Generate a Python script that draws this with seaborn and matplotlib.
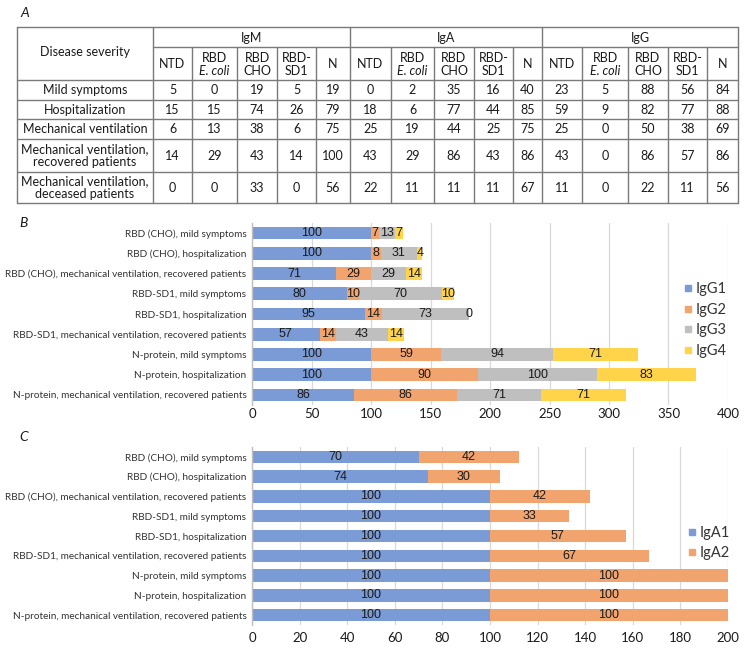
import numpy as np
import pandas as pd
import matplotlib
matplotlib.use("Agg")
import matplotlib.pyplot as plt
import seaborn as sns
from matplotlib.lines import Line2D

# ---------------- Panel A: table data ----------------
severity = ["Mild symptoms", "Hospitalization", "Mechanical ventilation",
            "Mechanical ventilation,\nrecovered patients",
            "Mechanical ventilation,\ndeceased patients"]
isotypes = ["IgM", "IgA", "IgG"]
antigen_top = ["NTD", "RBD", "RBD", "RBD-", "N"]
antigen_bottom = ["", "E. coli", "CHO", "SD1", ""]
igm = [[5, 0, 19, 5, 19], [15, 15, 74, 26, 79], [6, 13, 38, 6, 75],
       [14, 29, 43, 14, 100], [0, 0, 33, 0, 56]]
iga = [[0, 2, 35, 16, 40], [18, 6, 77, 44, 85], [25, 19, 44, 25, 75],
       [43, 29, 86, 43, 86], [22, 11, 11, 11, 67]]
igg = [[23, 5, 88, 56, 84], [59, 9, 82, 77, 88], [25, 0, 50, 38, 69],
       [43, 0, 86, 57, 86], [11, 0, 22, 11, 56]]

# ---------------- Panel B / C data ----------------
groups = ["RBD (CHO), mild symptoms",
          "RBD (CHO), hospitalization",
          "RBD (CHO), mechanical ventilation, recovered patients",
          "RBD-SD1, mild symptoms",
          "RBD-SD1, hospitalization",
          "RBD-SD1, mechanical ventilation, recovered patients",
          "N-protein, mild symptoms",
          "N-protein, hospitalization",
          "N-protein, mechanical ventilation, recovered patients"]
igg1 = [100, 100, 71, 80, 95, 57, 100, 100, 86]
igg2 = [7, 8, 29, 10, 14, 14, 59, 90, 86]
igg3 = [13, 31, 29, 70, 73, 43, 94, 100, 71]
igg4 = [7, 4, 14, 10, 0, 14, 71, 83, 71]
iga1 = [70, 74, 100, 100, 100, 100, 100, 100, 100]
iga2 = [42, 30, 42, 33, 57, 67, 100, 100, 100]
b_ticks = [0, 50, 100, 150, 200, 250, 300, 350, 400]
c_ticks = [0, 20, 40, 60, 80, 100, 120, 140, 160, 180, 200]

BLUE, ORANGE, GRAY, YELLOW = "#7b9bd6", "#f2a46f", "#bfbfbf", "#ffd44b"

sns.set_theme(style="white")
plt.rcParams["font.family"] = ["Lato", "DejaVu Sans"]

W, H = 749, 649
fig = plt.figure(figsize=(W / 100, H / 100), dpi=100)

# ---------------- Table ----------------
tax = fig.add_axes([0, 0, 1, 1])
tax.set_xlim(0, W)
tax.set_ylim(H, 0)
tax.axis("off")
tax.patch.set_alpha(0)

xs = [17, 153, 192, 237, 277, 316, 350, 391, 434, 474, 513, 542, 582, 628, 668, 707, 738]
ys = [27, 47, 80, 100, 119, 139, 172, 203]
lc = "#7a7a7a"
lw = 1.0
tax.plot([xs[0], xs[-1]], [ys[0], ys[0]], color=lc, lw=lw)
tax.plot([xs[1], xs[-1]], [ys[1], ys[1]], color=lc, lw=lw)
for y in ys[2:]:
    tax.plot([xs[0], xs[-1]], [y, y], color=lc, lw=lw)
for i, x in enumerate(xs):
    if i in (0, 1, 6, 11, 16):
        tax.plot([x, x], [ys[0], ys[-1]], color=lc, lw=lw)
    else:
        tax.plot([x, x], [ys[1], ys[-1]], color=lc, lw=lw)

tfs = 9
tc = "#1a1a1a"
tax.text((xs[0] + xs[1]) / 2, 52, "Disease severity", ha="center", va="center", fontsize=tfs, color=tc)
for g, iso in enumerate(isotypes):
    x0, x1 = xs[1 + 5 * g], xs[6 + 5 * g]
    tax.text((x0 + x1) / 2, 37.5, iso, ha="center", va="center", fontsize=tfs, color=tc)
    for k in range(5):
        cx = (xs[1 + 5 * g + k] + xs[2 + 5 * g + k]) / 2
        if antigen_bottom[k]:
            tax.text(cx, 58, antigen_top[k], ha="center", va="center", fontsize=tfs, color=tc)
            tax.text(cx, 71, antigen_bottom[k], ha="center", va="center", fontsize=tfs, color=tc,
                     style="italic" if "coli" in antigen_bottom[k] else "normal")
        else:
            tax.text(cx, 64, antigen_top[k], ha="center", va="center", fontsize=tfs, color=tc)
tables = [igm, iga, igg]
for r, sev in enumerate(severity):
    cy = (ys[2 + r] + ys[3 + r]) / 2
    tax.text((xs[0] + xs[1]) / 2, cy, sev, ha="center", va="center", fontsize=tfs, color=tc,
             linespacing=1.15)
    for g in range(3):
        for k in range(5):
            cx = (xs[1 + 5 * g + k] + xs[2 + 5 * g + k]) / 2
            tax.text(cx, cy, str(tables[g][r][k]), ha="center", va="center", fontsize=tfs, color=tc)

tax.text(20, 13, "A", fontsize=10, style="italic", ha="left", va="center", color=tc)
tax.text(19, 223, "B", fontsize=10, style="italic", ha="left", va="center", color=tc)
tax.text(19, 437, "C", fontsize=10, style="italic", ha="left", va="center", color=tc)


# ---------------- Stacked bar helper ----------------
def stacked(ax, layers, names, colors, ticks, xmax, labpad):
    df = pd.DataFrame({"group": groups})
    for n, v in zip(names, layers):
        df[n] = v
    cum = df[names].cumsum(axis=1)
    cum["group"] = df["group"]
    for n, c in reversed(list(zip(names, colors))):
        sns.barplot(data=cum, x=n, y="group", ax=ax, color=c, width=0.63,
                    orient="h", saturation=1, edgecolor="none", linewidth=0, zorder=2)
    for n in names:
        for i in range(len(groups)):
            v = df[n].iloc[i]
            ctr = cum[n].iloc[i] - v / 2
            ax.text(ctr, i, str(v), ha="center", va="center", fontsize=9,
                    family=["Liberation Sans", "DejaVu Sans"], color="#1a1a1a", zorder=3)
    ax.set_xlim(0, xmax)
    ax.set_ylim(len(groups) - 0.5, -0.5)
    ax.set_xticks(ticks)
    ax.set_xticklabels([str(t) for t in ticks])
    ax.set_xlabel("")
    ax.set_ylabel("")
    ax.grid(axis="x", color="#d9d9d9", lw=0.9, zorder=0)
    ax.grid(axis="y", visible=False)
    ax.set_axisbelow(True)
    for s in ("top", "right", "bottom"):
        ax.spines[s].set_visible(False)
    ax.spines["left"].set_color("#bfbfbf")
    ax.spines["left"].set_linewidth(1.0)
    ax.tick_params(axis="x", length=0, pad=labpad, labelsize=9.5, labelcolor="#1a1a1a")
    ax.tick_params(axis="y", which="major", length=0, pad=4, labelsize=7.2, labelcolor="#333333")
    ax.set_yticks(np.arange(-0.5, len(groups), 1.0), minor=True)
    ax.tick_params(axis="y", which="minor", length=4, width=1.0, color="#bfbfbf", direction="out")
    ax.set_facecolor("none")


axB = fig.add_axes([252 / W, 1 - 405 / H, 476 / W, 182 / H])
stacked(axB, [igg1, igg2, igg3, igg4], ["IgG1", "IgG2", "IgG3", "IgG4"],
        [BLUE, ORANGE, GRAY, YELLOW], b_ticks, 400, 2)
hB = [Line2D([], [], marker="s", ls="none", markersize=5, color=c)
      for c in [BLUE, ORANGE, GRAY, YELLOW]]
fig.legend(hB, ["IgG1", "IgG2", "IgG3", "IgG4"], loc="center left",
           bbox_to_anchor=(684 / W, 1 - 320 / H), frameon=False, fontsize=10.5,
           handlelength=0.5, handletextpad=0.3, labelspacing=0.45, borderpad=0,
           borderaxespad=0, labelcolor="#333333")

axC = fig.add_axes([252 / W, 1 - 625 / H, 476 / W, 178 / H])
stacked(axC, [iga1, iga2], ["IgA1", "IgA2"], [BLUE, ORANGE], c_ticks, 200, 5)
hC = [Line2D([], [], marker="s", ls="none", markersize=5, color=c) for c in [BLUE, ORANGE]]
fig.legend(hC, ["IgA1", "IgA2"], loc="center left",
           bbox_to_anchor=(688 / W, 1 - 543 / H), frameon=False, fontsize=10.5,
           handlelength=0.5, handletextpad=0.3, labelspacing=0.45, borderpad=0,
           borderaxespad=0, labelcolor="#333333")

fig.savefig("out.png", dpi=100, facecolor="white")
